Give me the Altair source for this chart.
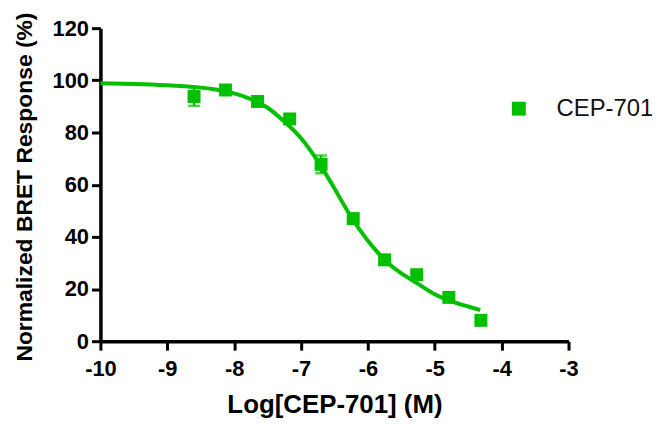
import altair as alt
import pandas as pd

GREEN = "#00c000"
FONT = "Liberation Sans"

# measured points (log M, % response, SEM)
x_pts = [-8.60, -8.13, -7.65, -7.17, -6.70, -6.22, -5.75, -5.27, -4.79, -4.31]
y_pts = [93.8, 96.3, 91.9, 85.2, 67.8, 47.0, 31.2, 25.5, 16.8, 8.0]
err = [3.6, 1.0, 1.0, 1.0, 3.4, 1.5, 1.0, 1.0, 1.0, 1.0]

# fitted curve
curve_x = [-10.0, -9.5, -9.0, -8.5, -8.25, -8.0, -7.75, -7.5, -7.25, -7.0, -6.75,
           -6.5, -6.25, -6.0, -5.75, -5.5, -5.25, -5.0, -4.75, -4.5, -4.32]
curve_y = [98.9, 98.6, 98.1, 97.2, 96.4, 95.0, 92.8, 89.5, 84.2, 77.8, 69.0,
           58.5, 47.6, 38.5, 31.2, 26.0, 22.0, 18.0, 15.3, 13.3, 11.9]

x_ticks = [-10, -9, -8, -7, -6, -5, -4, -3]
y_ticks = [0, 20, 40, 60, 80, 100, 120]

pts = pd.DataFrame({"x": x_pts, "y": y_pts, "e": err, "series": ["CEP-701"] * len(x_pts)})
pts["lo"] = pts["y"] - pts["e"]
pts["hi"] = pts["y"] + pts["e"]
crv = pd.DataFrame({"x": curve_x, "y": curve_y})

xs = alt.Scale(domain=[-10, -3], nice=False, zero=False)
ys = alt.Scale(domain=[0, 120], nice=False)

x_axis = alt.Axis(values=x_ticks, title="Log[CEP-701] (M)", labelExpr="'' + datum.value",
                  ticks=True, labelFlush=False, labelPadding=8, titlePadding=13,
                  titleFontSize=26)
y_axis = alt.Axis(values=y_ticks, title="Normalized BRET Response (%)", labelExpr="'' + datum.value",
                  ticks=True, labelFlush=False, labelPadding=3,
                  titleFontSize=23, titleAngle=270, titleAlign="left", titleBaseline="alphabetic",
                  titleX=-69, titleY=335)

line = alt.Chart(crv).mark_line(color=GREEN, strokeWidth=4, interpolate="natural").encode(
    x=alt.X("x:Q", scale=xs, axis=x_axis),
    y=alt.Y("y:Q", scale=ys, axis=y_axis),
)

rules = alt.Chart(pts).mark_rule(color=GREEN, strokeWidth=2.5).encode(
    x=alt.X("x:Q", scale=xs),
    y=alt.Y("lo:Q", scale=ys),
    y2="hi:Q",
)
caps_lo = alt.Chart(pts).mark_tick(color=GREEN, thickness=2.5, size=12, orient="horizontal").encode(
    x=alt.X("x:Q", scale=xs), y=alt.Y("lo:Q", scale=ys)
)
caps_hi = alt.Chart(pts).mark_tick(color=GREEN, thickness=2.5, size=12, orient="horizontal").encode(
    x=alt.X("x:Q", scale=xs), y=alt.Y("hi:Q", scale=ys)
)

squares = alt.Chart(pts).mark_square(size=170, opacity=1).encode(
    x=alt.X("x:Q", scale=xs),
    y=alt.Y("y:Q", scale=ys),
    color=alt.Color(
        "series:N",
        scale=alt.Scale(domain=["CEP-701"], range=[GREEN]),
        legend=alt.Legend(
            title=None, orient="none", legendX=409, legendY=69,
            symbolType="square", symbolSize=196, symbolStrokeWidth=0,
            labelFontSize=24, labelFont=FONT, labelFontWeight="normal",
            labelColor="#111111", labelOffset=26,
        ),
    ),
)

chart = alt.layer(line, rules, caps_lo, caps_hi, squares).properties(
    width=471,
    height=315,
    padding={"left": 93, "top": 19, "right": 84, "bottom": 80},
    autosize=alt.AutoSizeParams(type="none"),
).configure_view(stroke=None).configure_axis(
    grid=False,
    domainColor="black",
    domainWidth=3.5,
    tickColor="black",
    tickWidth=3,
    tickSize=9,
    labelFont=FONT,
    labelFontSize=22,
    labelFontWeight="bold",
    labelColor="black",
    titleFont=FONT,
    titleFontWeight="bold",
    titleColor="black",
)

chart.save("out.html", embed_options={"renderer": "svg", "actions": False})
